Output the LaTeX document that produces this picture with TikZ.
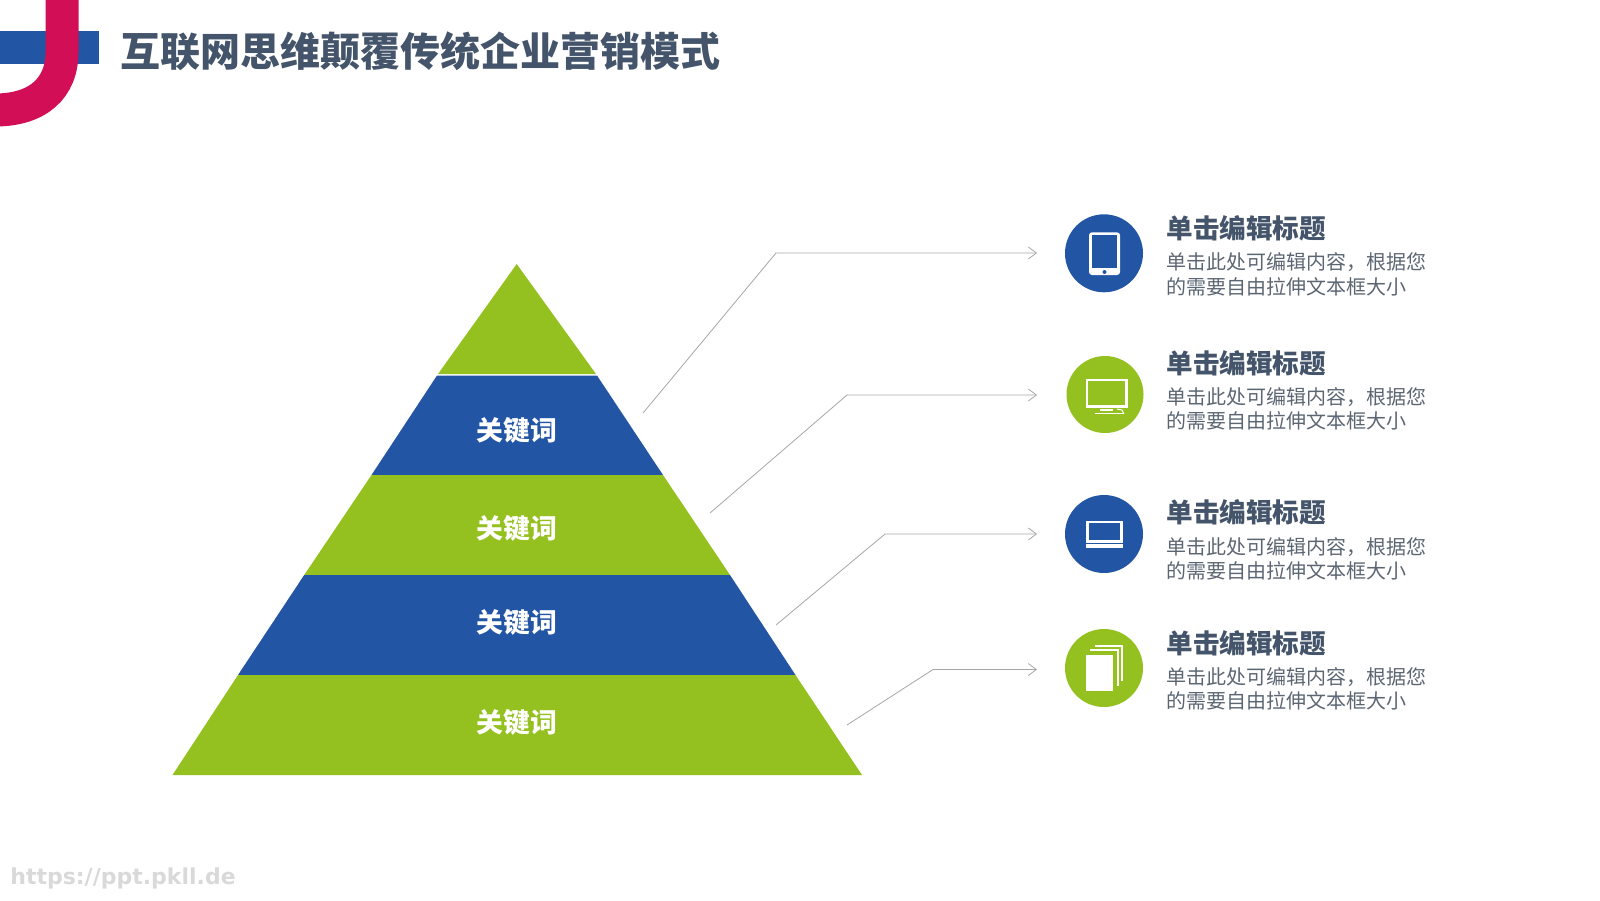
\documentclass[tikz,border=0pt]{standalone}
\usepackage{fontspec}
\setmainfont{Noto Sans CJK SC}
\newfontfamily\wmfont{DejaVu Sans}
\usetikzlibrary{arrows.meta}
\definecolor{cB}{HTML}{2255A4}
\definecolor{cG}{HTML}{94C11F}
\definecolor{cP}{HTML}{D20F56}
\definecolor{cT}{HTML}{44546A}
\definecolor{cD}{HTML}{5C6673}
\tikzstyle{tS}=[inner sep = 0pt,text=cT,font=\fontsize{20pt}{24pt}\selectfont\bfseries,anchor=west]
\tikzstyle{kS}=[inner sep = 0pt,text=white,font=\fontsize{13.4pt}{16pt}\selectfont\bfseries]
\tikzstyle{hS}=[inner sep = 0pt,text=cT,font=\fontsize{13.3pt}{16pt}\selectfont\bfseries,anchor=west]
\tikzstyle{bS}=[inner sep = 0pt,text=cD,font=\fontsize{10pt}{12pt}\selectfont,anchor=west,align=left]
\tikzstyle{lS}=[draw=black!35,line width=0.4pt,-{Straight Barb[length=4pt,width=6pt]}]
\tikzstyle{iS}=[draw=white,line width=1.1pt]
\tikzstyle{nB}=[circle,minimum size = 39pt,inner sep = 0pt,fill=cB]
\tikzstyle{nG}=[circle,minimum size = 39pt,inner sep = 0pt,fill=cG]
\begin{document}
\begin{tikzpicture}[x=0.5pt,y=-0.5pt]
                \useasboundingbox (0,0) rectangle (1600,900);
                % logo
                \fill[cB] (0,31) rectangle (99,64);
                \draw[cP,line width=16.5pt] (62,-5) -- (62,52) .. controls (62,88) and (38,110) .. (-5,110);
                \draw (120.5,51) node[tS] (title) {互联网思维颠覆传统企业营销模式};
                % pyramid
                \fill[cG] (516.7,264) -- (596,374) -- (438,374) -- cycle;
                \fill[cB] (437,375.5) -- (597,375.5) -- (663,475) -- (371.5,475) -- cycle;
                \fill[cG] (371.5,475) -- (663,475) -- (730,575) -- (304.2,575) -- cycle;
                \fill[cB] (304.2,575) -- (730,575) -- (795.5,675) -- (238,675) -- cycle;
                \fill[cG] (238,675) -- (795.5,675) -- (862,775) -- (172.5,775) -- cycle;
                \draw (516.7,430) node[kS] (k0) {关键词};
                \draw (516.7,528) node[kS] (k1) {关键词};
                \draw (516.7,622) node[kS] (k2) {关键词};
                \draw (516.7,722) node[kS] (k3) {关键词};
                % connectors
                \coordinate (s0) at (643,413); \coordinate (m0) at (776,253); \coordinate (e0) at (1037,253);
                \coordinate (s1) at (710,513); \coordinate (m1) at (847,395); \coordinate (e1) at (1037,395);
                \coordinate (s2) at (776,625); \coordinate (m2) at (885,534); \coordinate (e2) at (1037,534);
                \coordinate (s3) at (847,725); \coordinate (m3) at (933,669.5); \coordinate (e3) at (1037,669.5);
                \draw[lS] (s0) -- (m0) -- (e0);
                \draw[lS] (s1) -- (m1) -- (e1);
                \draw[lS] (s2) -- (m2) -- (e2);
                \draw[lS] (s3) -- (m3) -- (e3);
                % circles
                \draw (1104,253.3) node[nB] (c0) {};
                \draw (1105,394.5) node[nG,minimum size=38.5pt] (c1) {};
                \draw (1104,534) node[nB] (c2) {};
                \draw (1104,668) node[nG] (c3) {};
                % tablet
                \fill[white,rounded corners=1.5pt] (1089,232.3) rectangle (1120,275);
                \fill[cB] (1092,235) rectangle (1117,268.3);
                \fill[cB] (1104.5,272) circle (1pt);
                % monitor
                \draw[iS] (1087,380) rectangle (1126.5,406.5);
                \fill[white] (1100,409) rectangle (1113,411);
                \fill[white] (1095,412.5) rectangle (1123,413.5);
                \draw[white,line width=0.5pt] (1117,409) -- (1122,410) -- (1124,414);
                % laptop
                \draw[iS] (1087.5,522) rectangle (1121.5,541.5);
                \fill[white] (1086,543.7) rectangle (1123,548);
                % pages
                \fill[white] (1086,654.7) rectangle (1113.3,691);
                \draw[iS] (1090,650) -- (1118,650) -- (1118,686);
                \draw[iS] (1095,646) -- (1122.3,646) -- (1122.3,681);
                % texts
                \draw (1166,228) node[hS] (h0) {单击编辑标题};
                \draw (1166,262.5) node[bS] (b0a) {单击此处可编辑内容，根据您};
                \draw (1166,286.5) node[bS] (b0b) {的需要自由拉伸文本框大小};
                \draw (1166,363) node[hS] (h1) {单击编辑标题};
                \draw (1166,397) node[bS] (b1a) {单击此处可编辑内容，根据您};
                \draw (1166,421) node[bS] (b1b) {的需要自由拉伸文本框大小};
                \draw (1166,512) node[hS] (h2) {单击编辑标题};
                \draw (1166,546.7) node[bS] (b2a) {单击此处可编辑内容，根据您};
                \draw (1166,570.7) node[bS] (b2b) {的需要自由拉伸文本框大小};
                \draw (1166,643) node[hS] (h3) {单击编辑标题};
                \draw (1166,677) node[bS] (b3a) {单击此处可编辑内容，根据您};
                \draw (1166,701) node[bS] (b3b) {的需要自由拉伸文本框大小};
                % watermark
                \draw (10,878.5) node[inner sep=0pt,anchor=west,text=black!15,font=\wmfont\bfseries\fontsize{11pt}{14pt}\selectfont] (wm) {https://ppt.pkll.de};
\end{tikzpicture}
\end{document}
